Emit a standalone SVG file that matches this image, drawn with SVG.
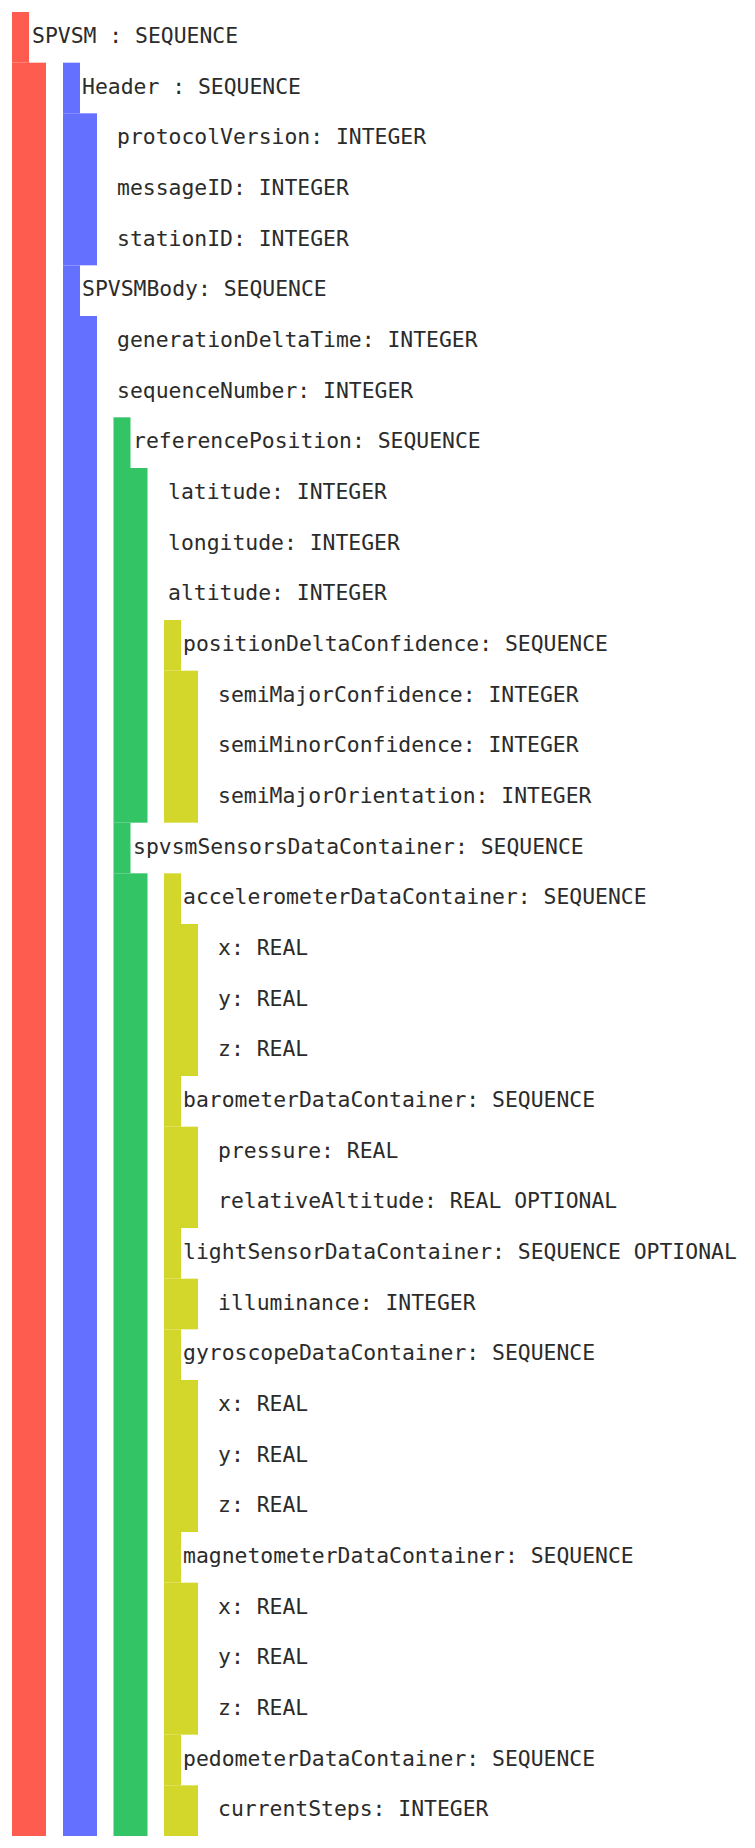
<svg xmlns="http://www.w3.org/2000/svg" width="755" height="1848" viewBox="0 0 755 1848">
<style>
text{font-family:"DejaVu Sans Mono","Liberation Mono",monospace;font-size:21.4px;fill:#2b2b2b}
.r{fill:#FF5C50}.b{fill:#6470FF}.g{fill:#33C466}.y{fill:#D4D72B}
</style>
<rect x="0" y="0" width="755" height="1848" fill="#ffffff"/>
<g id="connectors">
<rect class="r" x="12" y="12" width="17" height="50.67"/>
<rect class="r" x="12" y="62.67" width="34" height="1773.33"/>
<rect class="b" x="63" y="62.67" width="17" height="50.67"/>
<rect class="b" x="63" y="113.33" width="34" height="152"/>
<rect class="b" x="63" y="265.33" width="17" height="50.67"/>
<rect class="b" x="63" y="316" width="34" height="1520"/>
<rect class="g" x="113.5" y="417.33" width="17" height="50.67"/>
<rect class="g" x="113.5" y="468" width="34" height="354.67"/>
<rect class="g" x="113.5" y="822.67" width="17" height="50.67"/>
<rect class="g" x="113.5" y="873.33" width="34" height="962.67"/>
<rect class="y" x="164" y="620" width="17" height="50.67"/>
<rect class="y" x="164" y="670.67" width="34" height="152"/>
<rect class="y" x="164" y="873.33" width="17" height="50.67"/>
<rect class="y" x="164" y="924" width="34" height="152"/>
<rect class="y" x="164" y="1076" width="17" height="50.67"/>
<rect class="y" x="164" y="1126.67" width="34" height="101.33"/>
<rect class="y" x="164" y="1228" width="17" height="50.67"/>
<rect class="y" x="164" y="1278.67" width="34" height="50.67"/>
<rect class="y" x="164" y="1329.33" width="17" height="50.67"/>
<rect class="y" x="164" y="1380" width="34" height="152"/>
<rect class="y" x="164" y="1532" width="17" height="50.67"/>
<rect class="y" x="164" y="1582.67" width="34" height="152"/>
<rect class="y" x="164" y="1734.67" width="17" height="50.67"/>
<rect class="y" x="164" y="1785.33" width="34" height="50.67"/>
</g>
<g id="n0"><text x="32" y="43">SPVSM : SEQUENCE</text></g>
<g id="n1"><text x="82" y="93.67">Header : SEQUENCE</text></g>
<g id="n2"><text x="117" y="144.33">protocolVersion: INTEGER</text></g>
<g id="n3"><text x="117" y="195">messageID: INTEGER</text></g>
<g id="n4"><text x="117" y="245.67">stationID: INTEGER</text></g>
<g id="n5"><text x="82" y="296.33">SPVSMBody: SEQUENCE</text></g>
<g id="n6"><text x="117" y="347">generationDeltaTime: INTEGER</text></g>
<g id="n7"><text x="117" y="397.67">sequenceNumber: INTEGER</text></g>
<g id="n8"><text x="133" y="448.33">referencePosition: SEQUENCE</text></g>
<g id="n9"><text x="168" y="499">latitude: INTEGER</text></g>
<g id="n10"><text x="168" y="549.67">longitude: INTEGER</text></g>
<g id="n11"><text x="168" y="600.33">altitude: INTEGER</text></g>
<g id="n12"><text x="183" y="651">positionDeltaConfidence: SEQUENCE</text></g>
<g id="n13"><text x="218" y="701.67">semiMajorConfidence: INTEGER</text></g>
<g id="n14"><text x="218" y="752.33">semiMinorConfidence: INTEGER</text></g>
<g id="n15"><text x="218" y="803">semiMajorOrientation: INTEGER</text></g>
<g id="n16"><text x="133" y="853.67">spvsmSensorsDataContainer: SEQUENCE</text></g>
<g id="n17"><text x="183" y="904.33">accelerometerDataContainer: SEQUENCE</text></g>
<g id="n18"><text x="218" y="955">x: REAL</text></g>
<g id="n19"><text x="218" y="1005.67">y: REAL</text></g>
<g id="n20"><text x="218" y="1056.33">z: REAL</text></g>
<g id="n21"><text x="183" y="1107">barometerDataContainer: SEQUENCE</text></g>
<g id="n22"><text x="218" y="1157.67">pressure: REAL</text></g>
<g id="n23"><text x="218" y="1208.33">relativeAltitude: REAL OPTIONAL</text></g>
<g id="n24"><text x="183" y="1259">lightSensorDataContainer: SEQUENCE OPTIONAL</text></g>
<g id="n25"><text x="218" y="1309.67">illuminance: INTEGER</text></g>
<g id="n26"><text x="183" y="1360.33">gyroscopeDataContainer: SEQUENCE</text></g>
<g id="n27"><text x="218" y="1411">x: REAL</text></g>
<g id="n28"><text x="218" y="1461.67">y: REAL</text></g>
<g id="n29"><text x="218" y="1512.33">z: REAL</text></g>
<g id="n30"><text x="183" y="1563">magnetometerDataContainer: SEQUENCE</text></g>
<g id="n31"><text x="218" y="1613.67">x: REAL</text></g>
<g id="n32"><text x="218" y="1664.33">y: REAL</text></g>
<g id="n33"><text x="218" y="1715">z: REAL</text></g>
<g id="n34"><text x="183" y="1765.67">pedometerDataContainer: SEQUENCE</text></g>
<g id="n35"><text x="218" y="1816.33">currentSteps: INTEGER</text></g>
</svg>
